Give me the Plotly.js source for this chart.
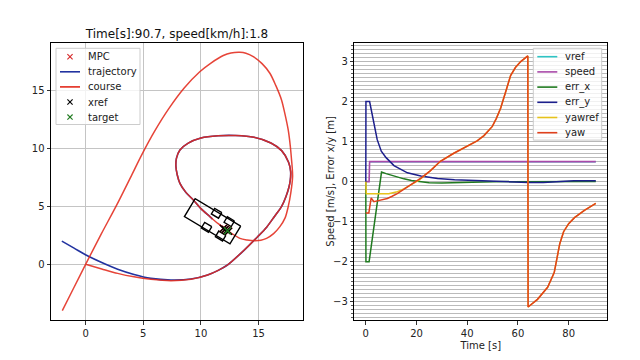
<!DOCTYPE html>
<html><head><meta charset="utf-8">
<script src="https://cdn.plot.ly/plotly-3.0.1.min.js"></script>
<style>html,body{margin:0;padding:0;background:#fff;}#plot{width:640px;height:360px;}</style>
</head><body><div id="plot"></div>
<script>
// ---------------- left panel data (x/y positions in metres) ----------------
const courseX = [0, 1.4, 2.78, 4.2, 5.66, 7.4, 9.13, 10.58, 11.5, 12.3, 13.76, 14.92, 15.7, 16.36, 17.0, 17.37, 17.62, 17.75, 17.78, 17.6, 17.0, 16.07, 14.6, 13.0, 11.5, 10.0, 8.9, 8.18, 7.88, 7.83, 7.95, 8.18, 8.7, 9.34, 10.0, 10.78, 11.5, 12.23, 13.38, 14.0, 14.68, 15.2, 15.69, 16.3, 16.85, 17.3, 17.57, 17.8, 17.95, 17.92, 17.86, 17.75, 17.57, 17.3, 16.99, 16.5, 15.98, 15.3, 14.54, 13.9, 13.38, 12.6, 11.94, 10.87, 9.9, 8.55, 7.2, 6.0, 4.9, 3.9, 2.69, 1.35, 0, -1.0, -2.02];
const courseY = [0, -0.4, -0.78, -1.08, -1.29, -1.41, -1.29, -0.92, -0.52, -0.06, 1.23, 2.38, 3.2, 4.1, 5.0, 5.83, 6.6, 7.27, 8.0, 8.8, 9.8, 10.46, 10.95, 11.1, 11.08, 10.89, 10.45, 9.86, 9.15, 8.45, 7.7, 6.98, 6.2, 5.55, 4.8, 4.11, 3.5, 2.96, 2.24, 2.1, 2.04, 2.08, 2.24, 2.65, 3.25, 4.0, 4.97, 6.2, 7.56, 8.3, 9.0, 10.2, 11.58, 12.9, 14.17, 15.4, 16.47, 17.3, 17.9, 18.2, 18.28, 18.22, 18.0, 17.35, 16.6, 15.2, 13.4, 11.5, 9.5, 7.5, 5.1, 2.6, 0, -1.98, -3.99];
const trajX = [-2.06, -1.0, 0.03, 1.4, 2.78, 4.2, 5.66, 7.4, 9.13, 10.58, 11.5, 12.3, 13.76, 14.92, 15.7, 16.36, 17.0, 17.37, 17.62, 17.75, 17.78, 17.6, 17.0, 16.07, 14.6, 13.0, 11.5, 10.0, 8.9, 8.18, 7.88, 7.83, 7.95, 8.18, 8.7, 9.34, 10.0, 10.78, 11.0];
const trajY = [2.0, 1.4, 0.8, 0.15, -0.43, -0.88, -1.21, -1.35, -1.27, -0.92, -0.52, -0.06, 1.23, 2.38, 3.2, 4.1, 5.0, 5.83, 6.6, 7.27, 8.0, 8.8, 9.8, 10.46, 10.95, 11.1, 11.08, 10.89, 10.45, 9.86, 9.15, 8.45, 7.7, 6.98, 6.2, 5.55, 4.8, 4.11, 3.9];
const carBodyX = [13.45, 12.52, 8.57, 9.50, 13.45];
const carBodyY = [3.30, 1.76, 4.12, 5.66, 3.30];
const wheelCX = [11.36, 12.46, 10.49, 11.71];
const wheelCY = [4.40, 3.68, 3.19, 2.44];
const carYaw = -0.54;
const mpcX = [11.95, 12.1, 12.25, 12.4];
const mpcY = [3.1, 3.02, 2.94, 2.86];
const xrefX = [11.95, 12.1, 12.25, 12.4];
const xrefY = [3.08, 3.0, 2.92, 2.85];
const targetX = [12.3];
const targetY = [2.9];

// ---------------- right panel data (time series) ----------------
const tVref = [1.5, 90.7];
const vref = [0.5, 0.5];
const tSpeed = [0, 1.3, 1.5, 90.7];
const speed = [0, 0, 0.5, 0.5];
const tErrX = [0, 0.05, 1.3, 6.2, 8, 10, 12, 15, 18, 21, 25, 30, 35, 40, 50, 90.7];
const errX = [0, -2.0, -2.0, 0.24, 0.2, 0.16, 0.12, 0.07, 0.03, 0.0, -0.03, -0.035, -0.025, -0.01, 0, 0.005];
const tErrY = [0, 0.05, 1.5, 1.9, 3.2, 4.5, 6.1, 8, 11.1, 16.4, 21.7, 28.3, 35, 42, 50, 58, 64, 70, 76, 82, 90.7];
const errY = [0, 2.0, 2.0, 1.88, 1.43, 1.05, 0.76, 0.6, 0.4, 0.22, 0.14, 0.08, 0.05, 0.03, 0.01, -0.01, -0.02, -0.02, 0.0, 0.02, 0.02];
const tYawRef = [0, 0.2, 9, 12, 15, 18, 21, 25.4, 29.4, 34.7, 37.3, 40, 43.9, 46.6, 49.9, 51.5, 53.2, 55.2, 57.1, 59, 61.1, 63.9, 64.0, 67.7, 71.7, 74.3, 75.5, 76.5, 78, 80, 82.3, 86.2, 90.7];
const yawRef = [0, -0.3, -0.3, -0.26, -0.18, -0.08, 0.04, 0.27, 0.51, 0.71, 0.8, 0.9, 1.02, 1.15, 1.38, 1.58, 1.84, 2.25, 2.65, 2.85, 3.0, 3.14, -3.13, -2.94, -2.64, -2.27, -1.9, -1.55, -1.25, -1.05, -0.9, -0.72, -0.54];
const tYaw = [0, 1.2, 2.1, 3.2, 4.5, 6.2, 8.5, 10.2, 12.4, 14.8, 17.5, 20, 22, 25.4, 29.4, 34.7, 37.3, 40, 43.9, 46.6, 49.9, 51.5, 53.2, 55.2, 57.1, 59, 61.1, 63.9, 64.0, 67.7, 71.7, 74.3, 75.5, 76.5, 78, 80, 82.3, 86.2, 90.7];
const yaw = [-0.78, -0.78, -0.41, -0.5, -0.48, -0.45, -0.42, -0.37, -0.3, -0.2, -0.09, 0.0, 0.1, 0.27, 0.51, 0.71, 0.8, 0.9, 1.02, 1.15, 1.38, 1.58, 1.84, 2.25, 2.65, 2.85, 3.0, 3.14, -3.13, -2.94, -2.64, -2.27, -1.9, -1.55, -1.25, -1.05, -0.9, -0.72, -0.54];

const titleText = 'Time[s]:90.7, speed[km/h]:1.8';
const xLabelRight = 'Time [s]';
const yLabelRight = 'Speed [m/s], Error x/y [m]';

// wheel outlines (small rotated squares around each wheel centre)
const wl = 0.36, ww = 0.28, cs = Math.cos(carYaw), sn = Math.sin(carYaw);
const carX = carBodyX.concat([null]), carY = carBodyY.concat([null]);
wheelCX.forEach((cx, i) => {
  const cy = wheelCY[i];
  [[wl, ww], [wl, -ww], [-wl, -ww], [-wl, ww], [wl, ww]].forEach(p => {
    carX.push(cx + p[0] * cs - p[1] * sn);
    carY.push(cy + p[0] * sn + p[1] * cs);
  });
  carX.push(null); carY.push(null);
});

const RED = '#e22a1c', BLUE = '#2233a0';
const C = {mpc: '#d62728', xref: '#000000', target: '#1f7a1f',
  vref: '#2ec4c4', speed: '#a94aa9', errx: '#1f7a1f', erry: '#1c1f8c', yawref: '#e6c21c', yaw: '#e0401c'};
const xMarker = (c) => ({symbol: 'x-thin', size: 7, color: c, line: {color: c, width: 1.4}});

const traces = [
  {x: trajX, y: trajY, mode: 'lines', name: 'trajectory', line: {color: BLUE, width: 1.6, shape: 'spline', smoothing: 0.8}, xaxis: 'x', yaxis: 'y'},
  {x: courseX, y: courseY, mode: 'lines', name: 'course', line: {color: RED, width: 1.5, shape: 'spline', smoothing: 0.8}, opacity: 0.88, xaxis: 'x', yaxis: 'y'},
  {x: carX, y: carY, mode: 'lines', name: 'car', line: {color: '#000', width: 1.4}, xaxis: 'x', yaxis: 'y'},
  {x: mpcX, y: mpcY, mode: 'markers', name: 'MPC', marker: xMarker(C.mpc), xaxis: 'x', yaxis: 'y'},
  {x: xrefX, y: xrefY, mode: 'markers', name: 'xref', marker: xMarker(C.xref), xaxis: 'x', yaxis: 'y'},
  {x: targetX, y: targetY, mode: 'markers', name: 'target', marker: xMarker(C.target), xaxis: 'x', yaxis: 'y'},

  {x: tVref, y: vref, mode: 'lines', name: 'vref', line: {color: C.vref, width: 1.5}, xaxis: 'x2', yaxis: 'y2'},
  {x: tSpeed, y: speed, mode: 'lines', name: 'speed', line: {color: C.speed, width: 1.6}, xaxis: 'x2', yaxis: 'y2'},
  {x: tErrX, y: errX, mode: 'lines', name: 'err_x', line: {color: C.errx, width: 1.5}, xaxis: 'x2', yaxis: 'y2'},
  {x: tErrY, y: errY, mode: 'lines', name: 'err_y', line: {color: C.erry, width: 1.5}, xaxis: 'x2', yaxis: 'y2'},
  {x: tYawRef, y: yawRef, mode: 'lines', name: 'yawref', line: {color: C.yawref, width: 1.5}, xaxis: 'x2', yaxis: 'y2'},
  {x: tYaw, y: yaw, mode: 'lines', name: 'yaw', line: {color: C.yaw, width: 1.5}, xaxis: 'x2', yaxis: 'y2'}
];

// legend entries, in matplotlib's order
const leftLegend = [
  {name: 'MPC', color: C.mpc, kind: 'x'},
  {name: 'trajectory', color: BLUE, kind: 'line'},
  {name: 'course', color: RED, kind: 'line'},
  {name: 'xref', color: C.xref, kind: 'x'},
  {name: 'target', color: C.target, kind: 'x'}
];
const rightLegend = [
  {name: 'vref', color: C.vref, kind: 'line'},
  {name: 'speed', color: C.speed, kind: 'line'},
  {name: 'err_x', color: C.errx, kind: 'line'},
  {name: 'err_y', color: C.erry, kind: 'line'},
  {name: 'yawref', color: C.yawref, kind: 'line'},
  {name: 'yaw', color: C.yaw, kind: 'line'}
];

const W = 640, H = 360;
const px = (v) => v / W, py = (v) => 1 - v / H;
const shapes = [], annotations = [];
function drawLegend(entries, left, top, width, rowH) {
  const height = 8.4 * 2 + (entries.length - 1) * rowH - 1;
  shapes.push({type: 'rect', xref: 'paper', yref: 'paper', x0: px(left), x1: px(left + width), y0: py(top), y1: py(top + height),
    line: {color: '#cccccc', width: 1}, fillcolor: 'rgba(255,255,255,0.8)', layer: 'above'});
  entries.forEach((e, i) => {
    const cy = top + 8.4 + i * rowH;
    if (e.kind === 'line') {
      shapes.push({type: 'line', xref: 'paper', yref: 'paper', x0: px(left + 4), x1: px(left + 24), y0: py(cy), y1: py(cy),
        line: {color: e.color, width: 1.6}, layer: 'above'});
    } else {
      const mx = left + 14, r = 2.6;
      shapes.push({type: 'line', xref: 'paper', yref: 'paper', x0: px(mx - r), x1: px(mx + r), y0: py(cy - r), y1: py(cy + r), line: {color: e.color, width: 1.1}, layer: 'above'});
      shapes.push({type: 'line', xref: 'paper', yref: 'paper', x0: px(mx - r), x1: px(mx + r), y0: py(cy + r), y1: py(cy - r), line: {color: e.color, width: 1.1}, layer: 'above'});
    }
    annotations.push({text: e.name, xref: 'paper', yref: 'paper', x: px(left + 31), y: py(cy), xanchor: 'left', yanchor: 'middle',
      showarrow: false, font: {size: 10, color: '#222'}, borderpad: 0});
  });
}
drawLegend(leftLegend, 56, 48.3, 84, 15.1);
drawLegend(rightLegend, 533.3, 48.3, 68.4, 15.2);

annotations.push({text: yLabelRight, xref: 'paper', yref: 'paper', x: px(331), y: py(181.7), xanchor: 'center', yanchor: 'middle',
  textangle: -90, showarrow: false, font: {size: 10, color: '#222'}});

const axisBase = {
  showline: true, mirror: true, linecolor: '#000', linewidth: 1,
  ticks: 'outside', ticklen: 3.5, tickwidth: 0.8, tickcolor: '#000',
  zeroline: false, tickfont: {size: 10, color: '#222'}
};

const layout = {
  width: W, height: H, margin: {l: 0, r: 0, t: 0, b: 0},
  paper_bgcolor: '#fff', plot_bgcolor: '#fff',
  font: {family: 'DejaVu Sans', size: 10, color: '#222'},
  showlegend: false, hovermode: false,
  title: {text: titleText, x: 0.2766, xanchor: 'center', xref: 'paper', y: 0.906, yanchor: 'middle', yref: 'paper', font: {size: 12, color: '#111'}},
  xaxis: Object.assign({}, axisBase, {domain: [0.0797, 0.4734], range: [-3.0, 18.85], tick0: 0, dtick: 5, showgrid: true, gridcolor: '#c4c4c4', gridwidth: 1, anchor: 'y'}),
  yaxis: Object.assign({}, axisBase, {domain: [0.1111, 0.8797], range: [-4.8, 19.05], tick0: 0, dtick: 5, showgrid: true, gridcolor: '#c4c4c4', gridwidth: 1, anchor: 'x'}),
  xaxis2: Object.assign({}, axisBase, {domain: [0.5536, 0.9489], range: [-4.535, 95.235], tick0: 0, dtick: 20, showgrid: false, anchor: 'y2', title: {text: xLabelRight, font: {size: 10}, standoff: 4}}),
  yaxis2: Object.assign({}, axisBase, {domain: [0.1111, 0.8797], range: [-3.456, 3.456], tick0: 0, dtick: 1, showgrid: true, gridcolor: '#b8b8b8', gridwidth: 1, anchor: 'x2',
    minor: {dtick: 0.1, showgrid: true, gridcolor: '#bbbbbb', gridwidth: 1, ticks: 'outside', ticklen: 2, tickcolor: '#333'}}),
  shapes: shapes,
  annotations: annotations
};

Plotly.newPlot('plot', traces, layout, {staticPlot: true, displayModeBar: false});
</script>
</body></html>
